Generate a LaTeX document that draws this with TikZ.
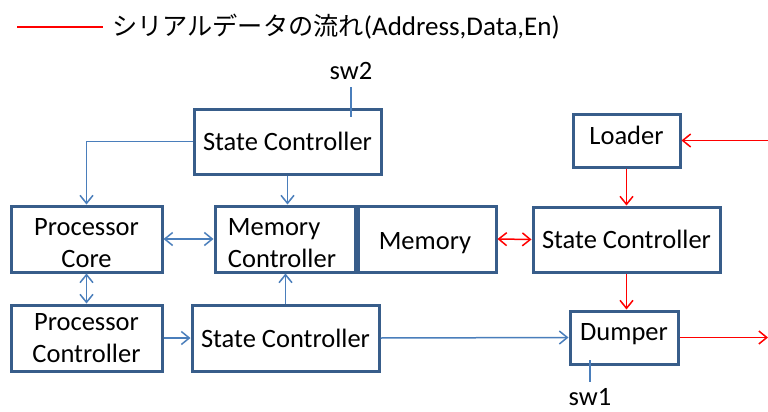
\documentclass[tikz,border=0pt]{standalone}
\usepackage{fontspec}
\setmainfont{Carlito}
\newfontfamily\cjk{Noto Sans CJK JP}
\usetikzlibrary{arrows.meta}
\definecolor{boxline}{HTML}{385D8A}
\definecolor{linkblue}{HTML}{4A7EBB}
\definecolor{serial}{HTML}{FF0000}
\tikzset{openbarb/.tip={Straight Barb[length=8pt,width=13pt,line width=1.5pt]}}

\begin{document}
\begin{tikzpicture}[x=1pt,y=-1pt,
  blk/.style={draw=boxline, line width=3pt, fill=white, inner sep=0pt,
    align=center, font=\fontsize{26.5}{31.5}\selectfont},
  txt/.style={inner sep=0pt, font=\fontsize{26.5}{32}\selectfont},
  lbl/.style={inner xsep=0pt, font=\fontsize{26.5}{31.5}\selectfont},
  link/.style={draw=linkblue, line width=1.5pt, -{openbarb}},
  dlink/.style={draw=linkblue, line width=1.5pt, {openbarb}-{openbarb}},
  ser/.style={draw=serial, line width=1.5pt, -{openbarb}},
  dser/.style={draw=serial, line width=1.5pt, {openbarb}-{openbarb}},
  stub/.style={draw=linkblue, line width=1.5pt},
]
\useasboundingbox (0,0) rectangle (768,412);

% legend
\coordinate (legA) at (17,27);
\node[anchor=west, inner sep=0pt] (legend) at (112,27)
  {{\cjk\fontsize{25.2}{30}\selectfont シリアルデータの流れ}\fontsize{27}{32}\selectfont(Address,Data,En)};
\draw[draw=serial, line width=1.5pt] (legA) -- ([xshift=-9pt]legend.west);

% blocks (captions that sit off the centre are separate text nodes)
\node[blk, minimum width=187pt, minimum height=65pt] (topsc) at (287.5,141.5) {State Controller};
\node[blk, minimum width=151pt, minimum height=66pt] (core) at (86.5,239) {};
\node[txt, align=center, yshift=-4pt] (coretxt) at (core) {Processor\\Core};
\node[blk, minimum width=140pt, minimum height=66pt] (memctl) at (285,239) {};
\node[txt, align=left, yshift=-4pt, xshift=-3pt] (memctltxt) at (memctl) {Memory\\Controller};
\node[blk, minimum width=138pt, minimum height=66pt] (mem) at (427,239) {};
\node[txt, yshift=-4pt, xshift=-2pt] (memtxt) at (mem) {Memory};
\node[blk, minimum width=151pt, minimum height=66pt] (pctl) at (86.5,338) {Processor\\Controller};
\node[blk, minimum width=187pt, minimum height=66pt] (botsc) at (285.5,338) {State Controller};
\node[blk, minimum width=107pt, minimum height=53pt] (loader) at (626.5,140.5) {};
\node[txt, yshift=5pt] (loadertxt) at (loader) {Loader};
\node[blk, minimum width=187pt, minimum height=65pt] (rsc) at (626.5,239.5) {State Controller};
\node[blk, minimum width=108pt, minimum height=53pt] (dump) at (624,337.5) {};
\node[txt, yshift=3pt] (dumptxt) at (dump) {Dumper};

% switches
\node[lbl, anchor=base, inner ysep=8pt] (sw2) at (351,79) {sw2};
\coordinate (sw2in) at (351,117);
\draw[stub] (sw2.south) -- (sw2in);
\node[lbl, anchor=base, inner ysep=6pt] (sw1) at (590,405) {sw1};
\coordinate (sw1in) at (590,360);
\draw[stub] (sw1.north) -- (sw1in);

% control flow
\draw[link] (topsc.west) -| (core.north);
\draw[link] (topsc.south) -- (topsc.south |- memctl.north);
\draw[dlink] (core.east) -- (memctl.west);
\draw[dlink] (core.south) -- (pctl.north);
\draw[link] (pctl.east) -- (botsc.west);
\draw[link] (botsc.north) -- (botsc.north |- memctl.south);
\draw[link] (botsc.east) -- (dump.west);

% serial data flow
\coordinate (serin) at (768,140.5);
\coordinate (serout) at (768,337.5);
\draw[dser] (mem.east) -- (rsc.west);
\draw[ser] (serin) -- (loader.east);
\draw[ser] (loader.south) -- (loader.south |- rsc.north);
\draw[ser] (rsc.south) -- (rsc.south |- dump.north);
\draw[ser] (dump.east) -- (serout);
\end{tikzpicture}
\end{document}
